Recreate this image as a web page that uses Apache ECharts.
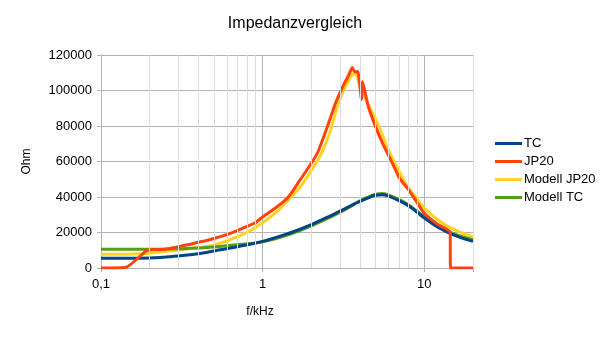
<!DOCTYPE html>
<html>
<head>
<meta charset="utf-8">
<script src="https://cdn.jsdelivr.net/npm/echarts@6/dist/echarts.min.js"></script>
<style>
    html, body { margin: 0; padding: 0; background: #fff; }
    #chart { width: 608px; height: 337px; }
</style>
</head>
<body>
<div id="chart"></div>
<script>
    // Frequenzen (kHz) der Modellkurven und Messung TC
    var freq = [0.1, 0.15, 0.2, 0.3, 0.4, 0.5, 0.7, 1, 1.5, 2, 2.5, 3, 3.5, 3.7, 4, 4.5, 5, 5.5, 6, 7, 8, 9, 10, 12, 15, 20];
    var tcData =       [5500, 5500, 5700, 6800, 8000, 9600, 12000, 15000, 20000, 24500, 28500, 32000, 35000, 36200, 37500, 39500, 41000, 41300, 40500, 37800, 35000, 31500, 28200, 23300, 18800, 15000];
    var modellTcData = [10500, 10500, 10500, 10800, 11200, 11800, 13200, 14800, 19300, 23800, 27800, 31300, 34700, 36000, 37800, 40000, 41600, 42000, 41200, 38500, 35500, 32000, 29000, 24000, 19500, 16000];
    var modellJpData = [7700, 7800, 8300, 10200, 11600, 13000, 17700, 25500, 40000, 55000, 72000, 95000, 107500, 109500, 102300, 92000, 84000, 75000, 66500, 54300, 45000, 39000, 33700, 27500, 22000, 17500];

    // Messung JP20 (verrauscht, eigene Frequenzpunkte)
    var jpFreq = [0.1, 0.143, 0.19, 0.2, 0.25, 0.3, 0.35, 0.4, 0.45, 0.5, 0.6, 0.7, 0.8, 0.9, 1, 1.2, 1.4, 1.5, 1.7, 2, 2.2, 2.5, 2.8, 3, 3.2, 3.4, 3.58, 3.7, 3.87, 3.95, 4.08, 4.15, 4.3, 4.5, 5, 5.5, 6, 6.5, 7, 7.5, 8, 9, 10, 12, 14.45, 14.5, 20];
    var jpData = [0, 400, 9600, 10200, 10600, 12000, 13200, 14500, 15500, 16700, 18800, 21200, 23500, 25500, 28800, 33800, 38800, 42000, 49500, 59000, 65500, 79000, 92000, 98500, 104000, 108500, 113000, 110500, 110700, 107000, 95000, 105000, 99000, 91000, 79500, 70500, 63500, 57000, 50800, 47200, 44000, 37000, 30800, 24800, 20300, 0, 0];

    var minorX = [0.2, 0.3, 0.4, 0.5, 0.6, 0.7, 0.8, 0.9, 2, 3, 4, 5, 6, 7, 8, 9, 20];
    var yTicks = [0, 20000, 40000, 60000, 80000, 100000, 120000];

    function pairs(xs, ys) {
        return xs.map(function (x, i) { return [x, ys[i]]; });
    }

    var myChart = echarts.init(document.getElementById("chart"));
    var font = "Liberation Sans";
    var lineSeries = function (name, xs, ys, color, smooth) {
        return {
            name: name,
            type: 'line',
            data: pairs(xs, ys),
            showSymbol: false,
            symbol: 'none',
            smooth: smooth,
            lineStyle: { color: color, width: 3 },
            itemStyle: { color: color }
        };
    };

    myChart.setOption({
        animation: false,
        textStyle: { fontFamily: font },
        title: {
            text: 'Impedanzvergleich',
            left: 290,
            top: 11,
            textAlign: 'center',
            textStyle: { fontFamily: font, fontSize: 16, fontWeight: 'normal', color: '#000' }
        },
        legend: {
            data: ['TC', 'JP20', 'Modell JP20', 'Modell TC'],
            orient: 'vertical',
            left: 490,
            top: 132,
            icon: 'rect',
            itemWidth: 27,
            itemHeight: 3,
            itemGap: 5,
            textStyle: { fontFamily: font, fontSize: 13, color: '#000', padding: [0, 0, 0, -3] }
        },
        grid: { left: 101, right: 135, top: 55, bottom: 69, containLabel: false },
        xAxis: {
            type: 'log',
            logBase: 10,
            min: 0.1,
            max: 20,
            name: 'f/kHz',
            nameLocation: 'middle',
            nameGap: 38,
            nameTextStyle: { fontFamily: font, fontSize: 12, color: '#000', padding: [0, 54, 0, 0] },
            axisLine: { lineStyle: { color: '#b3b3b3' } },
            axisTick: { show: true, length: 4, lineStyle: { color: '#b3b3b3' } },
            splitLine: { show: true, lineStyle: { color: '#b3b3b3' } },
            axisLabel: {
                fontFamily: font, fontSize: 13, color: '#000', margin: 10,
                formatter: function (v) {
                    var l = Math.log10(v);
                    if (Math.abs(l - Math.round(l)) > 1e-6) return '';
                    return String(v).replace('.', ',');
                }
            }
        },
        yAxis: {
            type: 'value',
            min: yTicks[0],
            max: yTicks[yTicks.length - 1],
            interval: yTicks[1] - yTicks[0],
            name: 'Ohm',
            nameLocation: 'middle',
            nameGap: 68,
            nameRotate: 90,
            nameTextStyle: { fontFamily: font, fontSize: 12, color: '#000' },
            axisLine: { show: true, lineStyle: { color: '#b3b3b3' } },
            axisTick: { show: true, length: 4, lineStyle: { color: '#b3b3b3' } },
            splitLine: { lineStyle: { color: '#b3b3b3' } },
            axisLabel: {
                fontFamily: font, fontSize: 13, color: '#000', margin: 9,
                formatter: function (v) { return String(v); }
            }
        },
        series: [
            {
                name: 'minor',
                type: 'line',
                data: [],
                z: 1,
                markLine: {
                    silent: true,
                    symbol: ['none', 'none'],
                    label: { show: false },
                    lineStyle: { color: '#dddddd', type: 'solid', width: 1 },
                    data: minorX.map(function (v) { return { xAxis: v }; })
                }
            },
            lineSeries('Modell JP20', freq, modellJpData, '#ffd320', 0.5),
            lineSeries('Modell TC', freq, modellTcData, '#579d1c', 0.5),
            lineSeries('TC', freq, tcData, '#004586', 0.5),
            lineSeries('JP20', jpFreq, jpData, '#ff420e', 0.15)
        ]
    });
</script>
</body>
</html>
